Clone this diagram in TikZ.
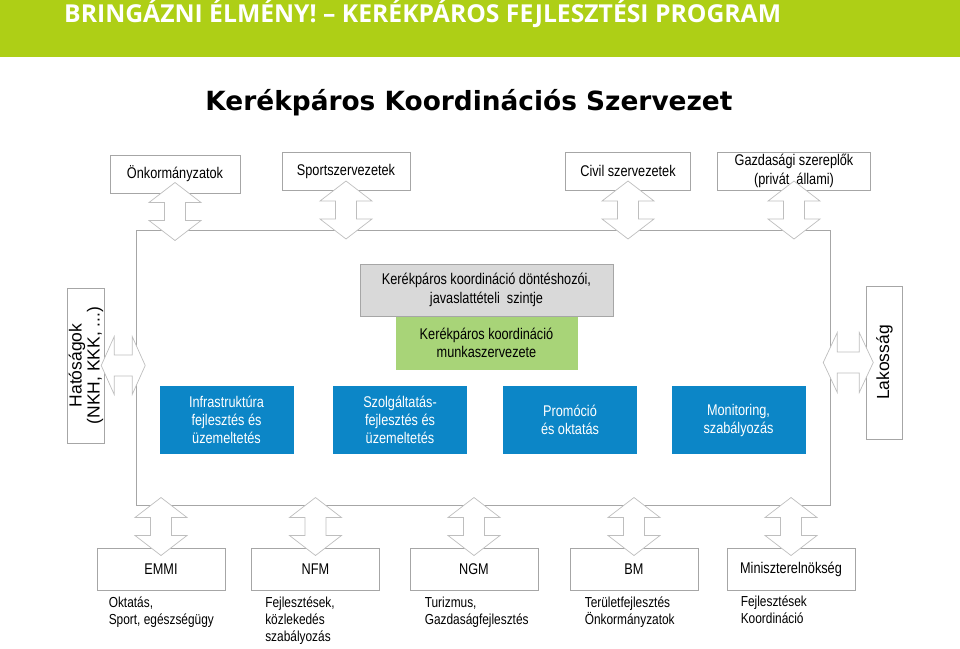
\documentclass[tikz,border=0pt]{standalone}
\usepackage{fontspec}
\setmainfont{Liberation Sans}[FakeStretch=0.82]
\newfontfamily\plainfont{Liberation Sans}
\newfontfamily\bannerfont{Open Sans}
\newfontfamily\titlefont{DejaVu Sans}
\usetikzlibrary{calc,positioning}

\definecolor{bannergreen}{RGB}{174,207,22}
\definecolor{linegray}{RGB}{166,166,166}
\definecolor{arrowgray}{RGB}{190,190,190}
\definecolor{levelgray}{RGB}{217,217,217}
\definecolor{workgreen}{RGB}{168,212,120}
\definecolor{taskblue}{RGB}{12,134,199}

\tikzset{
  partner/.style={draw=linegray, fill=white, line width=0.8pt, minimum height=38, inner sep=2pt, align=center, font=\fontsize{15.5}{19.5}\selectfont},
  task/.style={fill=taskblue, text=white, minimum width=134, minimum height=68, align=center, font=\fontsize{15.5}{18}\selectfont},
  ministry/.style={draw=linegray, fill=white, line width=0.8pt, minimum width=128, minimum height=42, font=\fontsize{15.5}{17}\selectfont},
  note/.style={anchor=north west, align=left, inner sep=0pt, font=\fontsize{14.5}{17}\selectfont},
  sidebox/.style={draw=linegray, fill=white, line width=0.8pt, rotate=90, minimum height=36, align=center, inner sep=1pt, font=\plainfont\fontsize{17.5}{18}\selectfont},
  pics/blockarr/.style args={#1/#2/#3}{code={
    \draw[draw=arrowgray, fill=white, line width=0.7pt, line join=miter]
      (-#1,0) -- (-#1+#3,-#2) -- (-#1+#3,-10.5) -- (#1-#3,-10.5) -- (#1-#3,-#2)
      -- (#1,0) -- (#1-#3,#2) -- (#1-#3,10.5) -- (-#1+#3,10.5) -- (-#1+#3,#2) -- cycle;
  }}
}

\begin{document}
\begin{tikzpicture}[x=1pt,y=-1pt]
  \useasboundingbox (0,0) rectangle (960,648);
  % banner and title
  \node[fill=bannergreen, minimum width=960, minimum height=57, inner sep=0, anchor=north west] (banner) at (0,0) {};
  \node[anchor=base west, text=white, inner sep=0, font=\bannerfont\bfseries\fontsize{24.7}{25}\selectfont] (bannertxt) at (64,22) {BRINGÁZNI ÉLMÉNY! – KERÉKPÁROS FEJLESZTÉSI PROGRAM};
  \node[anchor=base, inner sep=0, font=\titlefont\bfseries\fontsize{26.4}{30}\selectfont] (title) at (469,110) {Kerékpáros Koordinációs Szervezet};

  % the organisation
  \node[draw=linegray, line width=0.8pt, minimum width=694, minimum height=275, inner sep=0] (frame) at (483,367.5) {};
  \node[draw=linegray, fill=levelgray, line width=0.8pt, minimum width=253, minimum height=52, align=center, font=\fontsize{15.5}{18.5}\selectfont] (level) at (486.5,290) {Kerékpáros koordináció döntéshozói,\\javaslattételi\ \ szintje};
  \node[fill=workgreen, minimum width=182, minimum height=53, align=center, font=\fontsize{15.5}{18.5}\selectfont, below=0pt of level] (work) {Kerékpáros koordináció\\munkaszervezete};
  \node[task] (infra) at (226.5,420) {Infrastruktúra\\fejlesztés és\\üzemeltetés};
  \node[task] (service) at (400,420) {Szolgáltatás-\\fejlesztés és\\üzemeltetés};
  \node[task] (promo) at (570,420) {Promóció\\és oktatás};
  \node[task] (monitor) at (738.5,420) {Monitoring,\\szabályozás};

  % partners
  \node[partner, minimum width=130] (onk) at (175,174) {Önkormányzatok};
  \node[partner, minimum width=128] (sport) at (346,171) {Sportszervezetek};
  \node[partner, minimum width=125] (civil) at (628,171) {Civil szervezetek};
  \node[partner, minimum width=153] (gazd) at (794,171) {Gazdasági szereplők\\(privát\ \ állami)};
  \node[sidebox, minimum width=155] (auth) at (86,365.5) {Hatóságok\\(NKH, KKK, ...)};
  \node[sidebox, minimum width=153] (resid) at (884.5,362.5) {Lakosság};

  % ministries
  \node[ministry] (emmi) at (161,569) {EMMI};
  \node[ministry] (nfm) at (315.5,569) {NFM};
  \node[ministry] (ngm) at (474,569) {NGM};
  \node[ministry] (bm) at (634,569) {BM};
  \node[ministry] (pm) at (791,569) {Miniszterelnökség};
  \node[note] (emmitxt) at ($(emmi.south west)+(12,6)$) {Oktatás,\\Sport, egészségügy};
  \node[note] (nfmtxt) at ($(nfm.south west)+(14,6)$) {Fejlesztések,\\közlekedés\\szabályozás};
  \node[note] (ngmtxt) at ($(ngm.south west)+(15,6)$) {Turizmus,\\Gazdaságfejlesztés};
  \node[note] (bmtxt) at ($(bm.south west)+(15,6)$) {Területfejlesztés\\Önkormányzatok};
  \node[note] (pmtxt) at ($(pm.south west)+(14,5)$) {Fejlesztések\\Koordináció};

  % block arrows
  \foreach \b in {onk,sport,civil,gazd}
    \pic[rotate=90] at ($(\b.south)!0.5!(\b.south|-frame.north)$) {blockarr=29/26/20};
  \foreach \b in {emmi,nfm,ngm,bm,pm}
    \pic[rotate=90] at ($(\b.north)!0.5!(\b.north|-frame.south)$) {blockarr=29/26/20};
  \pic at ($(auth.south)!0.6!(frame.west|-auth.south)$) {blockarr=22/29/13};
  \pic at ($(frame.east|-resid.north)!0.5!(resid.north)$) {blockarr=25/30/14};
\end{tikzpicture}
\end{document}
